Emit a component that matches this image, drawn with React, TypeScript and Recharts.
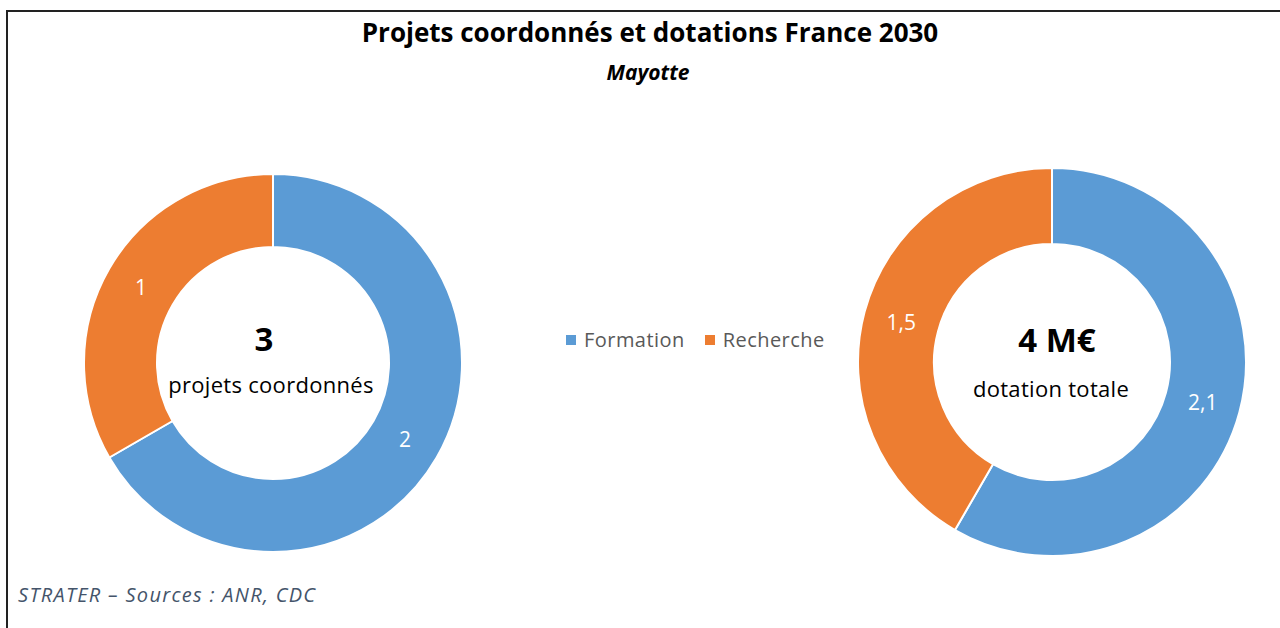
import { PieChart, Pie, Cell, Legend } from 'recharts';

const categories = ['Formation', 'Recherche'];
const projets = [2, 1];
const dotations = [2.1, 1.5];
const COLORS = ['#5B9BD5', '#ED7D31'];

const FONT = '"Open Sans", Lato, sans-serif';

const projetsData = categories.map((name, i) => ({ name, value: projets[i] }));
const dotationsData = categories.map((name, i) => ({ name, value: dotations[i] }));

const RAD = Math.PI / 180;

// white value label in the middle of the ring
const ringLabel = (props: any) => {
  const { cx, cy, midAngle, innerRadius, outerRadius, value } = props;
  const r = (innerRadius + outerRadius) / 2;
  const x = cx + r * Math.cos(-midAngle * RAD);
  const y = cy + r * Math.sin(-midAngle * RAD);
  return (
    <text x={x} y={y} fill="#fff" fontSize={21} fontFamily={FONT} textAnchor="middle" dominantBaseline="central">
      {String(value).replace('.', ',')}
    </text>
  );
};

function LegendContent({ payload }: any) {
  // both donuts share the same categories: show each once
  const seen = new Set<string>();
  const items = (payload || []).filter((p: any) => {
    if (seen.has(p.value)) return false;
    seen.add(p.value);
    return true;
  });
  return (
    <div style={{ display: 'flex', gap: 20, fontFamily: FONT, fontSize: 20, letterSpacing: 0.45, color: '#595959' }}>
      {items.map((p: any) => (
        <span key={p.value} style={{ display: 'flex', alignItems: 'center', gap: 8 }}>
          <span style={{ width: 10, height: 10, background: p.color, display: 'inline-block' }} />
          {p.value}
        </span>
      ))}
    </div>
  );
}

const centerBig: any = { position: 'absolute', fontFamily: FONT, fontWeight: 700, fontSize: 33, color: '#000', transform: 'translate(-50%, -50%)', whiteSpace: 'nowrap' };
const centerSmall: any = { position: 'absolute', fontFamily: FONT, fontSize: 22, letterSpacing: 0.3, color: '#000', transform: 'translate(-50%, -50%)', whiteSpace: 'nowrap' };

export default function App() {
  return (
    <div style={{ position: 'absolute', left: 0, top: 0, width: 1280, height: 628, background: '#fff', overflow: 'hidden' }}>
      {/* frame, open on the right and bottom */}
      <div style={{ position: 'absolute', left: 6, top: 10, width: 1300, height: 700, borderTop: '2px solid #222', borderLeft: '2px solid #222' }} />

      <div style={{ position: 'absolute', left: 0, width: 1300, top: 14, textAlign: 'center', fontFamily: FONT, fontWeight: 700, fontSize: 26, color: '#000' }}>
        Projets coordonnés et dotations France 2030
      </div>
      <div style={{ position: 'absolute', left: 0, width: 1296, top: 58, textAlign: 'center', fontFamily: FONT, fontWeight: 700, fontStyle: 'italic', fontSize: 21, color: '#000' }}>
        Mayotte
      </div>

      <div style={{ position: 'absolute', left: 0, top: 0 }}>
        <PieChart width={1280} height={628} margin={{ top: 0, right: 0, bottom: 0, left: 0 }}>
          <Pie
            data={projetsData}
            dataKey="value"
            nameKey="name"
            cx={273}
            cy={363}
            innerRadius={116}
            outerRadius={189}
            startAngle={90}
            endAngle={-270}
            stroke="#fff"
            strokeWidth={2}
            label={ringLabel}
            labelLine={false}
            isAnimationActive={false}
          >
            {projetsData.map((d, i) => <Cell key={d.name} fill={COLORS[i]} />)}
          </Pie>
          <Pie
            data={dotationsData}
            dataKey="value"
            nameKey="name"
            cx={1052}
            cy={362}
            innerRadius={118}
            outerRadius={194}
            startAngle={90}
            endAngle={-270}
            stroke="#fff"
            strokeWidth={2}
            label={ringLabel}
            labelLine={false}
            isAnimationActive={false}
          >
            {dotationsData.map((d, i) => <Cell key={d.name} fill={COLORS[i]} />)}
          </Pie>
          <Legend
            content={<LegendContent />}
            wrapperStyle={{ position: 'absolute', left: 566, top: 326, width: 'auto' }}
          />
        </PieChart>
      </div>

      <div style={{ ...centerBig, left: 264, top: 338 }}>3</div>
      <div style={{ ...centerSmall, left: 271, top: 384 }}>projets coordonnés</div>
      <div style={{ ...centerBig, left: 1057, top: 339 }}>4 M€</div>
      <div style={{ ...centerSmall, left: 1051, top: 388 }}>dotation totale</div>

      <div style={{ position: 'absolute', left: 18, top: 581, fontFamily: FONT, fontStyle: 'italic', fontSize: 20, letterSpacing: 1.3, color: '#44546A' }}>
        STRATER – Sources : ANR, CDC
      </div>
    </div>
  );
}
